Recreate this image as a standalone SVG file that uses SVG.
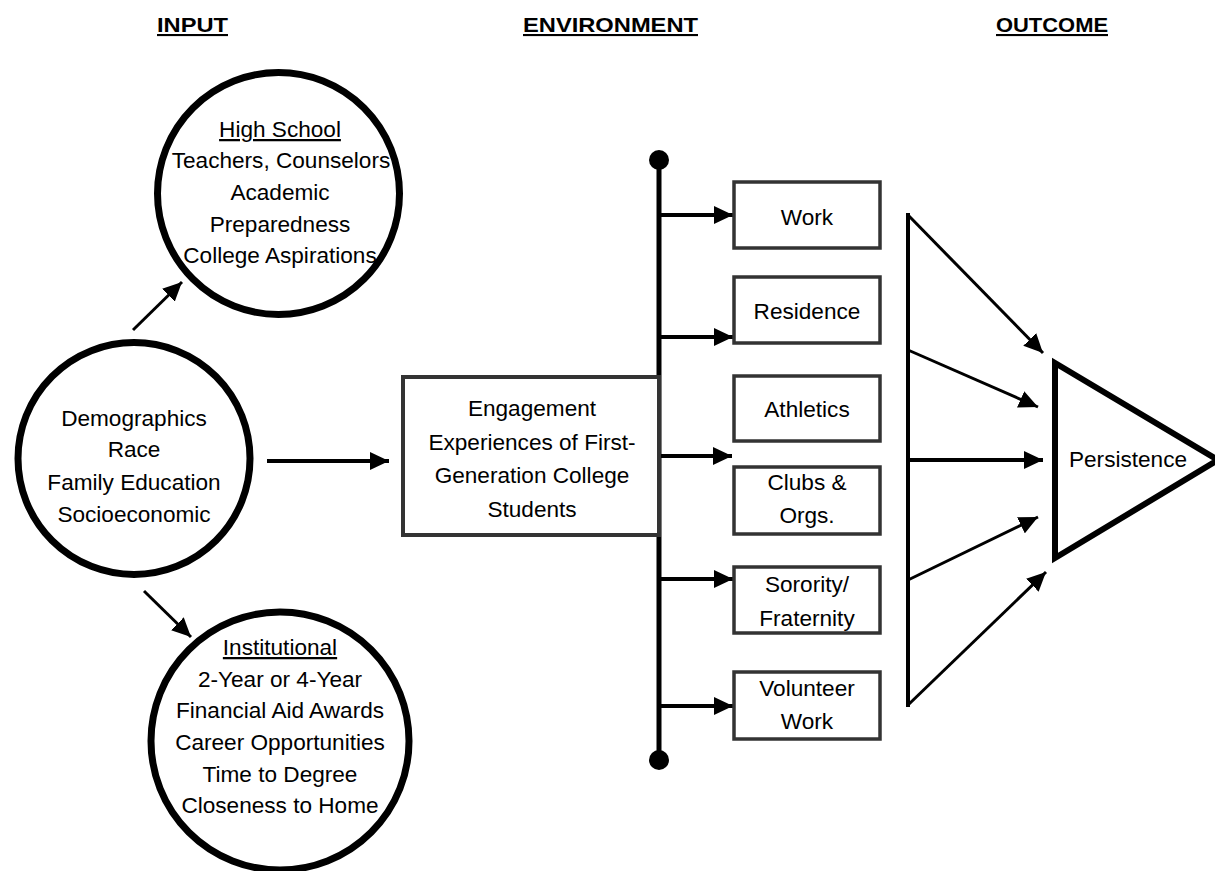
<svg xmlns="http://www.w3.org/2000/svg" width="1215" height="871" viewBox="0 0 1215 871">
<style>
text{font-family:"Liberation Sans",Arial,sans-serif;font-size:22.6px;fill:#000;text-anchor:middle}
.hd{font-weight:bold;font-size:21px;text-decoration:underline}
.ul{text-decoration:underline}
.circ{fill:#fff;stroke:#000;stroke-width:7}
.box{fill:#fff;stroke:#333;stroke-width:3.5}
.bigbox{fill:#fff;stroke:#333;stroke-width:4}
.c3{stroke:#000;stroke-width:3;fill:none}
.c4{stroke:#000;stroke-width:4;fill:none}
</style>
<defs>
<marker id="ah" markerUnits="userSpaceOnUse" markerWidth="20" markerHeight="18" refX="19" refY="9" orient="auto" viewBox="0 0 20 18">
<path d="M0,0 L19,9 L0,18 z" fill="#000"/>
</marker>
</defs>
<rect width="1215" height="871" fill="#fff"/>
<g id="headers">
<text class="hd" x="192.5" y="32" textLength="71" lengthAdjust="spacingAndGlyphs">INPUT</text>
<text class="hd" x="610.5" y="32" textLength="175" lengthAdjust="spacingAndGlyphs">ENVIRONMENT</text>
<text class="hd" x="1052" y="32" textLength="112" lengthAdjust="spacingAndGlyphs">OUTCOME</text>
</g>
<g id="connectors">
<line class="c3" x1="133" y1="330" x2="182" y2="282" marker-end="url(#ah)"/>
<line class="c3" x1="144" y1="591" x2="191" y2="637" marker-end="url(#ah)"/>
<line class="c4" x1="267" y1="461" x2="389" y2="461" marker-end="url(#ah)"/>
<line stroke="#000" stroke-width="5" x1="659" y1="160" x2="659" y2="760"/>
<circle cx="659" cy="160" r="10" fill="#000"/>
<circle cx="659" cy="760" r="10" fill="#000"/>
<line class="c4" x1="659" y1="215" x2="733" y2="215" marker-end="url(#ah)"/>
<line class="c4" x1="659" y1="337" x2="733" y2="337" marker-end="url(#ah)"/>
<line class="c4" x1="659" y1="456" x2="732" y2="456" marker-end="url(#ah)"/>
<line class="c4" x1="659" y1="579" x2="733" y2="579" marker-end="url(#ah)"/>
<line class="c4" x1="659" y1="706" x2="733" y2="706" marker-end="url(#ah)"/>
<line stroke="#000" stroke-width="4" x1="908" y1="213" x2="908" y2="707"/>
<line class="c3" x1="908" y1="215" x2="1043" y2="353" marker-end="url(#ah)"/>
<line class="c3" x1="908" y1="350" x2="1038" y2="407" marker-end="url(#ah)"/>
<line class="c4" x1="908" y1="460" x2="1043" y2="460" marker-end="url(#ah)"/>
<line class="c3" x1="908" y1="580" x2="1038" y2="517" marker-end="url(#ah)"/>
<line class="c3" x1="908" y1="705" x2="1046" y2="572" marker-end="url(#ah)"/>
</g>
<g id="highschool">
<circle class="circ" cx="278.5" cy="193.5" r="121"/>
<text class="ul" x="280" y="137">High School</text>
<text x="281" y="168">Teachers, Counselors</text>
<text x="280" y="200">Academic</text>
<text x="280" y="232">Preparedness</text>
<text x="280" y="263">College Aspirations</text>
</g>
<g id="demographics">
<circle class="circ" cx="134" cy="458.5" r="116"/>
<text x="134" y="426">Demographics</text>
<text x="134" y="457">Race</text>
<text x="134" y="490">Family Education</text>
<text x="134" y="522">Socioeconomic</text>
</g>
<g id="institutional">
<circle class="circ" cx="280" cy="741" r="129"/>
<text class="ul" x="280" y="655">Institutional</text>
<text x="280" y="687">2-Year or 4-Year</text>
<text x="280" y="718">Financial Aid Awards</text>
<text x="280" y="750">Career Opportunities</text>
<text x="280" y="782">Time to Degree</text>
<text x="280" y="813">Closeness to Home</text>
</g>
<g id="engagement">
<rect class="bigbox" x="403" y="377" width="256" height="158"/>
<text x="532" y="416">Engagement</text>
<text x="532" y="450">Experiences of First-</text>
<text x="532" y="483">Generation College</text>
<text x="532" y="517">Students</text>
</g>
<g id="work">
<rect class="box" x="734" y="182" width="146" height="66"/>
<text x="807" y="225">Work</text>
</g>
<g id="residence">
<rect class="box" x="734" y="277" width="146" height="66"/>
<text x="807" y="319">Residence</text>
</g>
<g id="athletics">
<rect class="box" x="734" y="376" width="146" height="65"/>
<text x="807" y="417">Athletics</text>
</g>
<g id="clubs">
<rect class="box" x="734" y="467" width="146" height="67"/>
<text x="807" y="490">Clubs &amp;</text>
<text x="807" y="523">Orgs.</text>
</g>
<g id="sorority">
<rect class="box" x="734" y="567" width="146" height="66"/>
<text x="807" y="592">Sorority/</text>
<text x="807" y="626">Fraternity</text>
</g>
<g id="volunteer">
<rect class="box" x="734" y="672" width="146" height="67"/>
<text x="807" y="696">Volunteer</text>
<text x="807" y="729">Work</text>
</g>
<g id="persistence">
<path d="M1055,363 L1055,558 L1218,460 Z" fill="#fff" stroke="#000" stroke-width="6" stroke-linejoin="miter"/>
<text x="1128" y="467">Persistence</text>
</g>
</svg>
